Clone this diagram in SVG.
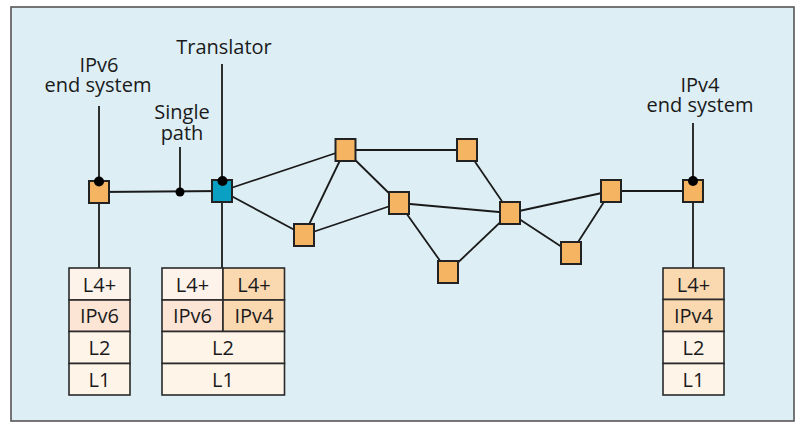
<svg xmlns="http://www.w3.org/2000/svg" width="797" height="423" viewBox="0 0 797 423">
  <style>
    .lbl { font-family: "Open Sans", "Noto Sans", sans-serif; font-size: 20px; fill: #1a1a1a; text-anchor: middle; }
    .edge { stroke: #1a1a1a; stroke-width: 1.8; fill: none; }
    .node { fill: #f5b461; stroke: #222; stroke-width: 2; }
    .xlat { fill: #0aa0c4; stroke: #222; stroke-width: 2; }
    .dot { fill: #000; }
    .cell { stroke: #2a2a2a; stroke-width: 1.6; }
    .c-top { fill: #fdf3ea; }
    .c-v6 { fill: #fce5d5; }
    .c-v4 { fill: #fad8b0; }
    .c-low { fill: #fef4e8; }
  </style>

  <!-- frame -->
  <rect x="11" y="7" width="783" height="414" fill="#ddeef5" stroke="#555" stroke-width="1.6"/>

  <!-- connectors -->
  <g id="connectors" class="edge">
    <!-- callout leaders -->
    <line x1="99" y1="106" x2="99" y2="181"/>
    <line x1="222" y1="64" x2="222" y2="181"/>
    <line x1="180" y1="147" x2="180" y2="192"/>
    <line x1="693" y1="123" x2="693" y2="181"/>
    <!-- host to protocol stacks -->
    <line x1="99" y1="192" x2="99" y2="268"/>
    <line x1="222" y1="191" x2="222" y2="268"/>
    <line x1="693" y1="191" x2="693" y2="268"/>
    <!-- links -->
    <line x1="99" y1="192" x2="222" y2="191"/>
    <line x1="222" y1="191" x2="345" y2="150"/>
    <line x1="222" y1="191" x2="304" y2="235"/>
    <line x1="345" y1="150" x2="467" y2="150"/>
    <line x1="345" y1="150" x2="304" y2="235"/>
    <line x1="345" y1="150" x2="399" y2="203"/>
    <line x1="304" y1="235" x2="399" y2="203"/>
    <line x1="399" y1="203" x2="510" y2="213"/>
    <line x1="399" y1="203" x2="448" y2="272"/>
    <line x1="467" y1="150" x2="510" y2="213"/>
    <line x1="448" y1="272" x2="510" y2="213"/>
    <line x1="510" y1="213" x2="611" y2="191"/>
    <line x1="510" y1="213" x2="571" y2="253"/>
    <line x1="571" y1="253" x2="611" y2="191"/>
    <line x1="611" y1="191" x2="693" y2="191"/>
  </g>

  <!-- IPv6 end system -->
  <g id="ipv6-host">
    <text class="lbl"><tspan x="99" y="72">IPv6</tspan><tspan x="98" y="92">end system</tspan></text>
    <rect class="node" x="89" y="181" width="20" height="22"/>
    <circle class="dot" cx="99" cy="181.5" r="5"/>
  </g>

  <!-- single path marker -->
  <g id="single-path">
    <text class="lbl"><tspan x="182" y="119">Single</tspan><tspan x="182" y="140">path</tspan></text>
    <circle class="dot" cx="180" cy="192" r="4.5"/>
  </g>

  <!-- translator -->
  <g id="translator">
    <text class="lbl" x="224" y="54">Translator</text>
    <rect class="xlat" x="212" y="180" width="20" height="22"/>
    <circle class="dot" cx="222.5" cy="181" r="5"/>
  </g>

  <!-- IPv4 routers -->
  <g id="r1"><rect class="node" x="335.5" y="139" width="20" height="22"/></g>
  <g id="r2"><rect class="node" x="457" y="139" width="20" height="22"/></g>
  <g id="r3"><rect class="node" x="389" y="192" width="20" height="22"/></g>
  <g id="r4"><rect class="node" x="294" y="224" width="20" height="22"/></g>
  <g id="r5"><rect class="node" x="500" y="202" width="20" height="22"/></g>
  <g id="r6"><rect class="node" x="438" y="261" width="20" height="22"/></g>
  <g id="r7"><rect class="node" x="561" y="242" width="20" height="22"/></g>
  <g id="r8"><rect class="node" x="601" y="180" width="20" height="22"/></g>

  <!-- IPv4 end system -->
  <g id="ipv4-host">
    <text class="lbl"><tspan x="700" y="92">IPv4</tspan><tspan x="700" y="112">end system</tspan></text>
    <rect class="node" x="683" y="180" width="20" height="22"/>
    <circle class="dot" cx="693" cy="181" r="5"/>
  </g>

  <!-- IPv6 host stack -->
  <g id="stack-ipv6">
    <rect class="cell c-top" x="69" y="268" width="61" height="32"/>
    <rect class="cell c-v6" x="69" y="300" width="61" height="31.5"/>
    <rect class="cell c-low" x="69" y="331.5" width="61" height="32"/>
    <rect class="cell c-low" x="69" y="363.5" width="61" height="31.5"/>
    <text class="lbl" x="99.5" y="291.5">L4+</text>
    <text class="lbl" x="99.5" y="323">IPv6</text>
    <text class="lbl" x="99.5" y="355">L2</text>
    <text class="lbl" x="99.5" y="386.5">L1</text>
  </g>

  <!-- translator stack -->
  <g id="stack-translator">
    <rect class="cell c-top" x="162" y="268" width="61" height="32"/>
    <rect class="cell c-v4" x="223" y="268" width="61.5" height="32"/>
    <rect class="cell c-v6" x="162" y="300" width="61" height="31.5"/>
    <rect class="cell c-v4" x="223" y="300" width="61.5" height="31.5"/>
    <rect class="cell c-low" x="162" y="331.5" width="122.5" height="32"/>
    <rect class="cell c-low" x="162" y="363.5" width="122.5" height="31.5"/>
    <text class="lbl" x="192.5" y="291.5">L4+</text>
    <text class="lbl" x="254" y="291.5">L4+</text>
    <text class="lbl" x="192.5" y="323">IPv6</text>
    <text class="lbl" x="254" y="323">IPv4</text>
    <text class="lbl" x="223" y="355">L2</text>
    <text class="lbl" x="223" y="386.5">L1</text>
  </g>

  <!-- IPv4 host stack -->
  <g id="stack-ipv4">
    <rect class="cell c-v4" x="663" y="268" width="61" height="31.5"/>
    <rect class="cell c-v4" x="663" y="299.5" width="61" height="32"/>
    <rect class="cell c-low" x="663" y="331.5" width="61" height="32"/>
    <rect class="cell c-low" x="663" y="363.5" width="61" height="31.5"/>
    <text class="lbl" x="693.5" y="291.5">L4+</text>
    <text class="lbl" x="693.5" y="323">IPv4</text>
    <text class="lbl" x="693.5" y="355">L2</text>
    <text class="lbl" x="693.5" y="386.5">L1</text>
  </g>
</svg>
